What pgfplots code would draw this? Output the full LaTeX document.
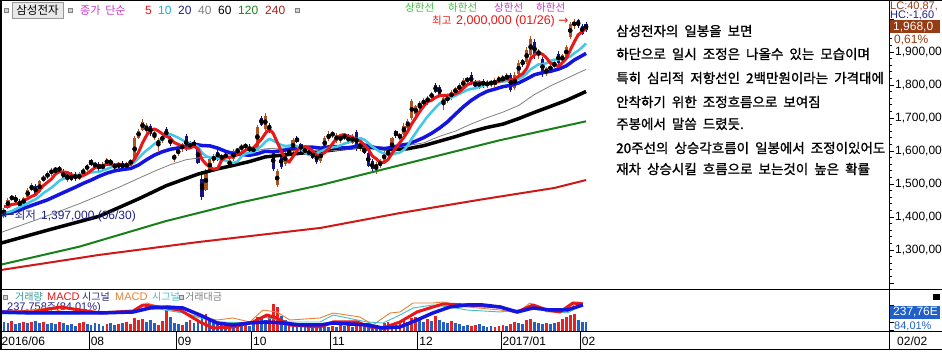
\documentclass[border=0pt]{standalone}
\usepackage{fontspec}
\setmainfont{Liberation Sans}
\newfontfamily\kr[WordSpace=2]{Noto Sans CJK KR}
\newfontfamily\krb[WordSpace=2,FakeBold=1.2]{Noto Sans CJK KR}
\newfontfamily\dv{DejaVu Sans}
\usepackage{graphicx}
\usepackage{pgfplots}
\usepackage{pgfplotstable}
\pgfplotsset{compat=1.18}
\newcommand\fs[1]{\fontsize{#1}{#1}\selectfont}
\definecolor{upc}{RGB}{172,84,36}
\definecolor{dnc}{RGB}{20,20,128}
\definecolor{ma5}{RGB}{232,24,24}
\definecolor{ma10}{RGB}{64,200,232}
\definecolor{ma20}{RGB}{20,20,224}
\definecolor{ma40}{RGB}{128,128,128}
\definecolor{ma120}{RGB}{24,128,24}
\definecolor{ma240}{RGB}{208,24,24}
\definecolor{vred}{RGB}{228,36,36}
\definecolor{vblue}{RGB}{36,96,196}
\definecolor{mag}{RGB}{200,56,200}
\definecolor{lgreen}{RGB}{64,192,64}
\definecolor{navyt}{RGB}{32,32,140}
\definecolor{tealt}{RGB}{56,150,150}
\definecolor{orng}{RGB}{230,130,50}
\definecolor{cyant}{RGB}{64,190,200}
\definecolor{brbox}{RGB}{150,60,20}
\definecolor{bluebox}{RGB}{32,96,200}
\definecolor{n10}{RGB}{32,176,208}
\definecolor{n120}{RGB}{32,128,32}
\definecolor{n240}{RGB}{176,32,32}

\pgfplotstableread{
i o h l c
1 1410 1428 1397 1422
2 1428 1458 1425 1452
3 1455 1468 1448 1462
6 1438 1462 1433 1458
7 1460 1488 1456 1482
8 1482 1502 1478 1496
10 1476 1512 1472 1508
11 1510 1528 1505 1522
12 1520 1538 1515 1532
13 1532 1548 1525 1543
14 1540 1552 1528 1548
17 1520 1532 1505 1526
20 1516 1535 1512 1530
21 1530 1548 1526 1544
22 1544 1562 1538 1556
24 1556 1568 1545 1562
26 1545 1566 1540 1562
27 1565 1578 1558 1570
30 1550 1566 1546 1562
32 1548 1568 1545 1565
33 1562 1575 1556 1570
34 1572 1644 1570 1638
35 1640 1668 1635 1662
36 1665 1696 1660 1688
37 1662 1684 1650 1678
39 1646 1660 1632 1655
40 1620 1640 1600 1632
41 1632 1650 1625 1645
44 1575 1592 1568 1588
45 1590 1612 1585 1605
46 1605 1625 1598 1620
48 1610 1630 1605 1625
52 1482 1545 1478 1538
53 1540 1580 1535 1575
54 1570 1590 1565 1586
56 1575 1592 1568 1588
58 1555 1578 1548 1572
59 1575 1605 1570 1600
60 1598 1610 1588 1606
61 1606 1622 1598 1615
62 1612 1625 1605 1618
64 1600 1612 1595 1608
65 1610 1680 1608 1672
67 1668 1716 1662 1705
70 1498 1545 1490 1538
72 1560 1600 1555 1592
73 1590 1610 1585 1605
74 1600 1640 1596 1632
81 1570 1605 1565 1600
82 1608 1645 1605 1638
83 1635 1660 1630 1652
84 1648 1660 1640 1655
85 1630 1655 1625 1648
86 1632 1650 1625 1645
87 1640 1655 1632 1648
89 1625 1650 1620 1645
91 1606 1630 1600 1625
95 1545 1568 1530 1562
96 1555 1575 1548 1570
97 1570 1600 1565 1595
98 1590 1605 1580 1600
99 1600 1642 1595 1638
101 1640 1655 1632 1650
102 1652 1685 1648 1675
103 1670 1698 1665 1692
104 1700 1758 1695 1752
105 1712 1740 1705 1735
106 1735 1750 1720 1745
107 1742 1760 1735 1755
108 1750 1768 1740 1762
109 1765 1780 1755 1772
112 1740 1765 1725 1760
113 1752 1770 1745 1765
114 1760 1785 1755 1780
115 1775 1795 1770 1790
116 1785 1805 1780 1800
117 1795 1820 1790 1815
118 1812 1825 1805 1820
121 1795 1815 1788 1810
123 1798 1815 1790 1810
124 1805 1815 1795 1808
125 1800 1822 1795 1815
126 1812 1828 1805 1822
127 1815 1830 1805 1825
128 1822 1835 1810 1828
130 1790 1840 1785 1830
131 1832 1875 1828 1868
133 1870 1915 1865 1905
134 1890 1948 1885 1938
136 1895 1910 1880 1902
138 1835 1855 1828 1850
139 1845 1865 1838 1858
140 1855 1875 1850 1870
142 1872 1895 1868 1890
143 1885 1920 1880 1915
144 1945 1990 1940 1985
145 1980 2000 1970 1992
}\upcandles

\pgfplotstableread{
i o h l c
0 1432 1440 1412 1418
4 1462 1466 1440 1445
5 1448 1455 1428 1432
9 1494 1500 1465 1470
15 1548 1556 1535 1540
16 1538 1545 1512 1518
18 1526 1535 1508 1512
19 1530 1535 1510 1516
23 1572 1576 1555 1558
25 1560 1566 1540 1545
28 1572 1576 1555 1558
29 1556 1565 1545 1550
31 1565 1570 1542 1548
38 1676 1682 1645 1650
42 1668 1672 1638 1642
43 1640 1645 1615 1620
47 1645 1650 1600 1608
49 1628 1634 1610 1615
50 1612 1618 1560 1565
51 1515 1540 1452 1460
55 1598 1605 1570 1578
57 1592 1596 1575 1580
63 1610 1620 1596 1600
66 1700 1706 1675 1680
68 1680 1686 1655 1665
69 1598 1602 1540 1545
71 1588 1592 1545 1550
75 1640 1645 1624 1628
76 1620 1625 1598 1602
77 1606 1612 1590 1596
78 1600 1606 1585 1590
79 1595 1600 1575 1580
80 1590 1596 1562 1568
88 1648 1652 1620 1625
90 1658 1665 1600 1605
92 1610 1612 1590 1595
93 1595 1600 1550 1555
94 1570 1575 1538 1545
100 1660 1665 1640 1645
110 1800 1805 1775 1778
111 1795 1800 1765 1770
119 1830 1838 1800 1805
120 1810 1815 1790 1795
122 1812 1818 1792 1798
129 1830 1835 1780 1785
132 1875 1880 1855 1860
135 1930 1938 1880 1888
137 1880 1885 1825 1832
141 1895 1902 1862 1868
146 1998 2000 1972 1978
147 1980 1985 1952 1956
148 1985 1990 1962 1968
}\dncandles

\pgfplotstableread{
i v
0 11
3 11
6 10
8 10
11 10
15 10
20 9
21 10
27 8
30 8
32 10
33 8
34 14
35 12
36 13
40 7
41 11
42 22
46 7
48 12
52 18
58 8
60 8
62 8
65 15
68 15
69 28
70 25
73 10
78 7
80 8
84 6
86 7
88 7
90 8
91 7
97 9
98 10
99 8
101 9
102 11
104 14
105 15
108 13
110 16
114 11
119 6
120 7
125 5
126 6
127 7
129 8
130 10
133 12
134 13
138 9
141 10
142 13
143 15
144 17
145 18
}\volred

\pgfplotstableread{
i v
1 10
2 9
4 8
5 9
7 9
9 11
10 9
12 8
13 9
14 8
16 9
17 7
18 8
19 6
22 8
23 7
24 9
25 8
26 6
28 9
29 7
31 9
37 10
38 12
39 9
43 15
44 9
45 8
47 10
49 9
50 10
51 17
53 14
54 12
55 9
56 8
57 7
59 9
61 7
63 6
64 9
66 14
67 12
71 16
72 12
74 9
75 8
76 7
77 6
79 6
81 6
82 7
83 5
85 5
87 6
89 5
92 6
93 9
94 8
95 7
96 6
100 7
103 10
106 12
107 10
109 11
111 12
112 10
113 9
115 9
116 8
117 6
118 7
121 8
122 6
123 5
124 6
128 6
131 9
132 8
135 10
136 9
137 8
139 8
140 9
146 12
147 10
148 10
}\volblue

\begin{document}
\begin{tikzpicture}[x=1pt,y=1pt]
\useasboundingbox (0,0) rectangle (942,352);
\fill[white] (0,0) rectangle (942,352);

% ---------------- price panel
\begin{axis}[
  at={(0pt,62pt)}, anchor=south west, scale only axis,
  width=889pt, height=290pt,
  xmin=0, xmax=224.5, ymin=1178.8, ymax=2057.6,
  axis line style={draw=none},
  xtick=\empty,
  ytick={1200,1300,1400,1500,1600,1700,1800,1900,2000},
  yticklabels={{},{1,300,00},{1,400,00},{1,500,00},{1,600,00},{1,700,00},{1,800,00},{1,900,00},{}},
  ytick pos=right, yticklabel pos=right,
  tick align=outside, major tick length=5pt, minor tick length=3pt,
  minor y tick num=4,
  tick style={black, line width=0.8pt},
  yticklabel style={font=\fs{12}, inner sep=1pt},
  line join=round,
]
% wicks
\addplot[only marks, mark=none, forget plot, error bars/.cd, y dir=both, y explicit, error mark=none, error bar style={draw=upc, line width=1pt}]
  table[x=i, y expr={(\thisrow{h}+\thisrow{l})/2}, y error expr={(\thisrow{h}-\thisrow{l})/2}] {\upcandles};
\addplot[only marks, mark=none, forget plot, error bars/.cd, y dir=both, y explicit, error mark=none, error bar style={draw=dnc, line width=1pt}]
  table[x=i, y expr={(\thisrow{h}+\thisrow{l})/2}, y error expr={(\thisrow{h}-\thisrow{l})/2}] {\dncandles};
% bodies
\addplot[only marks, mark=none, forget plot, error bars/.cd, y dir=both, y explicit, error mark=none, error bar style={draw=upc, line width=3.2pt}]
  table[x=i, y expr={(\thisrow{o}+\thisrow{c})/2}, y error expr={abs(\thisrow{o}-\thisrow{c})/2}] {\upcandles};
\addplot[only marks, mark=none, forget plot, error bars/.cd, y dir=both, y explicit, error mark=none, error bar style={draw=dnc, line width=3.2pt}]
  table[x=i, y expr={(\thisrow{o}+\thisrow{c})/2}, y error expr={abs(\thisrow{o}-\thisrow{c})/2}] {\dncandles};
% MA240
\addplot[ma240, line width=2pt, mark=none] table {
i v
0 1239
25 1285
50 1324
81 1367
101 1412
121 1452
140 1488
148 1512
};
% MA120
\addplot[ma120, line width=2pt, mark=none] table {
i v
0 1255
20 1310
42 1388
60 1442
81 1497
101 1557
126 1632
148 1690
};
% MA60
\addplot[black, line width=3.5pt, mark=none] table {
i v
0 1320
12 1360
25 1402
35 1455
42 1495
50 1530
55 1546
59 1556.6
63 1568
67 1582.1
71 1587.2
75 1592.1
79 1597
83 1601.5
87 1607.5
91 1612.2
95 1609.2
99 1604.7
103 1606.8
107 1616.2
111 1629.8
115 1643.5
119 1658.5
123 1671.4
127 1681.4
131 1698.3
135 1717.2
139 1735.1
143 1753.2
147 1774.8
148 1780.5
};
% MA40
\addplot[ma40, line width=0.8pt, mark=none] table {
i v
0 1352
10 1395
20 1440
30 1490
39 1538.8
43 1558.5
47 1573.6
51 1580.3
55 1583.1
59 1589.8
63 1596.1
67 1606.8
71 1608.8
75 1609.3
79 1601.7
83 1599.7
87 1604.1
91 1610
95 1609.5
99 1611
103 1616.6
107 1624.7
111 1644.3
115 1660.2
119 1682
123 1700.9
127 1717.7
131 1738
135 1771.4
139 1797.3
143 1819.4
147 1842
148 1847.1
};
% MA20
\addplot[ma20, line width=3.5pt, mark=none] table {
i v
0 1405
4 1418
8 1435
12 1452
16 1474
19 1490.1
21 1501.8
23 1511.8
25 1523.3
27 1532.9
29 1540
31 1544
33 1547
35 1557.6
37 1573.7
39 1587.6
41 1597.7
43 1605.1
45 1609.4
47 1614.2
49 1620.8
51 1616.6
53 1615.5
55 1608.7
57 1598.8
59 1592.1
61 1589.3
63 1587.1
65 1591.5
67 1599.3
69 1597.8
71 1601
73 1605.2
75 1610
77 1611.5
79 1611.4
81 1608.7
83 1612.3
85 1613.5
87 1608.9
89 1611.9
91 1619
93 1616.6
95 1609
97 1607.3
99 1610.7
101 1617
103 1620.9
105 1630.1
107 1640.5
109 1653.7
111 1669.6
113 1688.3
115 1711.5
117 1734
119 1753.3
121 1768.8
123 1780.9
125 1787.7
127 1795
129 1799
131 1806.5
133 1818.5
135 1831.3
137 1837.2
139 1841.4
141 1848
143 1857.9
145 1875.6
147 1888.9
148 1895.9
};
% MA10
\addplot[ma10, line width=2.5pt, mark=none] table {
i v
0 1408
3 1418
6 1436
9 1453.7
10 1462.7
11 1472.7
12 1480.7
13 1488.8
14 1499.1
15 1509.9
16 1515.9
17 1520.3
18 1521.9
19 1526.5
20 1528.7
21 1530.9
22 1533.3
23 1534.8
24 1536.2
25 1536.7
26 1541.1
27 1545.5
28 1550.1
29 1553.5
30 1556.7
31 1557.1
32 1558
33 1559.2
34 1566.8
35 1578.5
36 1591.1
37 1601.9
38 1611.1
39 1621.6
40 1628.6
41 1638.3
42 1646
43 1651
44 1646
45 1640.3
46 1633.5
47 1626.5
48 1624
49 1620
50 1613.3
51 1594.8
52 1584.4
53 1579.9
54 1579.7
55 1577
56 1573.8
57 1571
58 1565.7
59 1564.2
60 1568.3
61 1583.8
62 1591.8
63 1594.3
64 1596.5
65 1605.9
66 1615.1
67 1627.6
68 1636.9
69 1631.4
70 1624.6
71 1618.1
72 1615.5
73 1616
74 1618.4
75 1614
76 1606.2
77 1595.3
78 1587.8
79 1591.3
80 1594.3
81 1599.3
82 1603.9
83 1608.6
84 1610.9
85 1612.9
86 1617.2
87 1622.4
88 1625.9
89 1632.4
90 1636.1
91 1638.6
92 1634.3
93 1624.6
94 1613.6
95 1605
96 1597.5
97 1592.2
98 1589.7
99 1589
100 1593
101 1595.5
102 1603.5
103 1617.2
104 1637.9
105 1655.2
106 1672.7
107 1688.7
108 1704.9
109 1718.3
110 1731.6
111 1743.6
112 1752.1
113 1759.4
114 1762.2
115 1767.7
116 1773.2
117 1779.2
118 1785
119 1788.3
120 1790
121 1794
122 1797.8
123 1802.3
124 1805.1
125 1807.6
126 1809.8
127 1810.8
128 1811.6
129 1809.6
130 1813.1
131 1818.9
132 1825.1
133 1834.6
134 1847.6
135 1854.9
136 1862.9
137 1863.6
138 1865.8
139 1873.1
140 1877.1
141 1877.1
142 1880.1
143 1881.1
144 1885.8
145 1896.2
146 1903.8
147 1914.2
148 1926
};
% MA5
\addplot[ma5, line width=3pt, mark=none] table {
i v
1 1432
2 1433
3 1438
4 1439.8
5 1442.6
6 1449.8
7 1455.8
8 1462.6
9 1467.6
10 1482.8
11 1495.6
12 1505.6
13 1515
14 1530.6
15 1537
16 1536.2
17 1535
18 1528.8
19 1522.4
20 1520.4
21 1525.6
22 1531.6
23 1540.8
24 1550
25 1553
26 1556.6
27 1559.4
28 1559.4
29 1557
30 1560.4
31 1557.6
32 1556.6
33 1559
34 1576.6
35 1596.6
36 1624.6
37 1647.2
38 1663.2
39 1666.6
40 1660.6
41 1652
42 1644.8
43 1638.8
44 1625.4
45 1620
46 1615
47 1608.2
48 1609.2
49 1614.6
50 1606.6
51 1574.6
52 1560.6
53 1550.6
54 1544.8
55 1547.4
56 1573
57 1581.4
58 1580.8
59 1583.6
60 1589.2
61 1594.6
62 1602.2
63 1607.8
64 1609.4
65 1622.6
66 1635.6
67 1653
68 1666
69 1653.4
70 1626.6
71 1600.6
72 1578
73 1566
74 1583.4
75 1601.4
76 1611.8
77 1612.6
78 1609.6
79 1599.2
80 1587.2
81 1586.8
82 1595.2
83 1607.6
84 1622.6
85 1638.6
86 1647.6
87 1649.6
88 1644.2
89 1642.2
90 1633.6
91 1629.6
92 1619
93 1605
94 1585
95 1576.4
96 1565.4
97 1565.4
98 1574.4
99 1593
100 1609.6
101 1625.6
102 1641.6
103 1660
104 1682.8
105 1700.8
106 1719.8
107 1735.8
108 1749.8
109 1753.8
110 1762.4
111 1767.4
112 1768.4
113 1769
114 1770.6
115 1773
116 1779
117 1790
118 1801
119 1806
120 1807
121 1809
122 1805.6
123 1803.6
124 1804.2
125 1808.2
126 1810.6
127 1816
128 1819.6
129 1815
130 1818
131 1827.2
132 1834.2
133 1849.6
134 1880.2
135 1891.8
136 1898.6
137 1893
138 1882
139 1866
140 1862.4
141 1855.6
142 1867.2
143 1880.2
144 1905.6
145 1930
146 1952
147 1961.2
148 1971.8
};
\end{axis}

% ---------------- volume / MACD panel
\node[anchor=west, inner sep=0pt, text=navyt] at (7,44) {\fs{11}237,758\kr\fs{10}주\rmfamily\fs{11}(84,01\%)};
\begin{axis}[
  at={(0pt,20pt)}, anchor=south west, scale only axis,
  width=889pt, height=42pt,
  xmin=0, xmax=224.5, ymin=0, ymax=42,
  axis line style={draw=none},
  xtick=\empty, ytick={2,10,27}, yticklabels={},
  ytick pos=right, tick align=outside, major tick length=5pt,
  tick style={black, line width=0.8pt},
  line join=round,
]
\addplot[ycomb, vred, line width=2.8pt, mark=none] table[x=i, y=v] {\volred};
\addplot[ycomb, vblue, line width=2.8pt, mark=none] table[x=i, y=v] {\volblue};
% MACD (trading value), thin
\addplot[orng, line width=0.9pt, mark=none] table {
i v
0 19
12.6 24
16.9 19
33.6 20
37.1 29
40.4 25
45.5 20
50.5 15
54.8 12
58.8 14
63.1 10
66.4 22
69.9 20
73.2 12
80.8 14
84.1 19
90.9 15
94.2 7
98.5 19
101 20
104.3 29
109.3 29
111.9 30
117.9 25
126.3 22
130.6 19
133.8 29
138.1 20
143.2 20
145.7 30
147.2 29
};
\addplot[cyant, line width=0.9pt, mark=none] table {
i v
0 18
16.9 18
33.6 19
37.1 25
46.2 19
50.5 14
55.6 10
63.1 9
66.4 15
73.2 10
80.8 10
84.1 17
92.7 10
96.7 9
101 17
104.3 24
109.3 27
113.6 25
117.9 22
126.3 20
134.6 24
143.2 19
147.2 27
};
% MACD (volume), thick
\addplot[ma5, line width=3pt, mark=none] table {
i v
0 20
8.3 20
15.2 25
20.2 22
25.3 19
33.6 21
36.1 27
40.4 25
45.5 22
50.5 10
53.8 4
58.8 5
63.9 10
67.4 17
69.9 14
73.2 7
80.8 5
84.1 10
90.2 10
93.4 5
96.7 4
101 10
105.3 20
109.3 25
111.9 28
117.9 27
126.3 25
130.6 20
134.6 27
138.1 22
141.4 20
144.7 29
147.2 28
};
\addplot[ma20, line width=3.5pt, mark=none] table {
i v
0 20
8.3 19
16.9 19
25.3 19
33.6 20
37.9 24
42.2 25
46.2 24
50.5 17
54.8 9
58.8 7
63.1 9
67.4 10
71.5 9
75.8 7
80.8 7
84.1 9
92.7 7
96.7 4
101 5
105.3 12
109.3 19
113.6 25
117.9 27
122 27
126.3 25
130.6 20
134.6 24
138.9 22
143.2 22
147.2 27
};
\end{axis}

% ---------------- date strip
\begin{axis}[
  at={(0pt,2pt)}, anchor=south west, scale only axis,
  width=889pt, height=18pt,
  xmin=0, xmax=224.5, ymin=0, ymax=1,
  axis line style={draw=none},
  ytick=\empty,
  xtick={0,22.5,44.5,63.5,83.5,105.5,126.5,146.5},
  xticklabels={2016/06,08,09,10,11,12,2017/01,02},
  major tick length=0pt,
  xmajorgrids, grid style={black, line width=0.8pt},
  xticklabel style={font=\fs{12}, anchor=west, inner sep=1.5pt, yshift=9pt},
]
\addplot[draw=none, forget plot] coordinates {(0,0)};
\end{axis}

% ---------------- frame lines
\draw[black, line width=1pt] (0,351.5) -- (942,351.5);
\draw[black, line width=1pt] (0,62) -- (942,62);
\draw[black, line width=1pt] (0,20) -- (942,20);
\draw[black, line width=1pt] (0,2) -- (942,2);
\draw[black, line width=1pt] (889,2) -- (889,352);
\draw[black, line width=1.5pt] (0.75,2) -- (0.75,352);

% ---------------- header
\draw[gray, fill=gray!35] (4.5,339.5) rectangle (8.5,343.5);
\draw[gray!80, fill=gray!18] (12,334) rectangle (63,350);
\node[inner sep=0pt] at (37.5,342) {\kr\fs{11.5}삼성전자};
\draw[gray, fill=gray!35] (68.5,339.5) rectangle (72.5,343.5);
\node[anchor=west, inner sep=0pt, text=mag] at (80,342) {\kr\fs{11}종가 단순};
\node[anchor=west, inner sep=0pt, text=ma5] at (145,342) {\fs{12}5};
\node[anchor=west, inner sep=0pt, text=n10] at (158,342) {\fs{12}10};
\node[anchor=west, inner sep=0pt, text=navyt] at (178,342) {\fs{12}20};
\node[anchor=west, inner sep=0pt, text=ma40] at (198,342) {\fs{12}40};
\node[anchor=west, inner sep=0pt, text=black] at (218,342) {\fs{12}60};
\node[anchor=west, inner sep=0pt, text=n120] at (238,342) {\fs{12}120};
\node[anchor=west, inner sep=0pt, text=n240] at (265,342) {\fs{12}240};
\draw[gray, fill=gray!35] (295.5,339.5) rectangle (299.5,343.5);

\node[anchor=west, inner sep=0pt, text=lgreen] at (405,344) {\kr\fs{10.5}상한선};
\node[anchor=west, inner sep=0pt, text=lgreen] at (448,344) {\kr\fs{10.5}하한선};
\node[anchor=west, inner sep=0pt, text=mag] at (494,344) {\kr\fs{10.5}상한선};
\node[anchor=west, inner sep=0pt, text=mag] at (536,344) {\kr\fs{10.5}하한선};
\node[anchor=west, inner sep=0pt, text=ma5] at (432,331) {\kr\fs{10.5}최고 \rmfamily\fs{12.5}2,000,000 (01/26) \dv\fs{12}→};

\node[anchor=west, inner sep=0pt, text=navyt] at (2,136) {\dv\fs{15}←\kr\fs{11.5}최저 \rmfamily\fs{12}1,397,000 (06/30)};

% ---------------- comment text
\begin{scope}[every node/.style={anchor=west, inner sep=0pt}]
\node at (616,321) {\krb\fs{13.5}삼성전자의 일봉을 보면};
\node at (616,298) {\krb\fs{13.5}하단으로 일시 조정은 나올수 있는 모습이며};
\node at (616,274) {\krb\fs{13.5}특히 심리적 저항선인 2백만원이라는 가격대에};
\node at (616,250) {\krb\fs{13.5}안착하기 위한 조정흐름으로 보여짐};
\node at (616,228) {\krb\fs{13.5}주봉에서 말씀 드렸듯.};
\node at (616,204) {\krb\fs{13.5}20주선의 상승각흐름이 일봉에서 조정이있어도};
\node at (616,183) {\krb\fs{13.5}재차 상승시킬 흐름으로 보는것이 높은 확률};
\end{scope}

% ---------------- right column
\node[anchor=west, inner sep=0pt, text=brbox] at (890,346) {\fs{11}LC:40,87,};
\node[anchor=west, inner sep=0pt, text=navyt] at (890,336.5) {\fs{11}HC:-1,60};
\fill[brbox] (890,319) rectangle (940,331.5);
\node[anchor=west, inner sep=0pt, text=white] at (893,325.2) {\fs{12}1,968,0};
\node[anchor=west, inner sep=0pt, text=brbox] at (894,311.5) {\fs{12}0,61\%};

% ---------------- lower panel labels
\draw[gray, fill=gray!35] (3.5,53) rectangle (7.5,57);
\node[anchor=west, inner sep=0pt, text=tealt] at (15,55) {\kr\fs{10}거래량};
\node[anchor=west, inner sep=0pt, text=ma5] at (47,55) {\fs{11}MACD};
\node[anchor=west, inner sep=0pt, text=navyt] at (82,55) {\kr\fs{10}시그널};
\node[anchor=west, inner sep=0pt, text=orng] at (115,55) {\fs{11}MACD};
\node[anchor=west, inner sep=0pt, text=cyant] at (152,55) {\kr\fs{10}시그널};
\draw[gray, fill=gray!35] (179.5,53) rectangle (183.5,57);
\node[anchor=west, inner sep=0pt, text=gray] at (185,55) {\kr\fs{10}거래대금};

\fill[black] (933,52) rectangle (940,58);
\fill[bluebox] (890,33) rectangle (940,46);
\node[anchor=west, inner sep=0pt, text=white] at (893,39.5) {\fs{12}237,76E};
\node[anchor=west, inner sep=0pt, text=bluebox] at (894,25.5) {\fs{11}84,01\%};
\node[anchor=west, inner sep=0pt] at (897,11) {\fs{12}02/02};
\end{tikzpicture}
\end{document}
